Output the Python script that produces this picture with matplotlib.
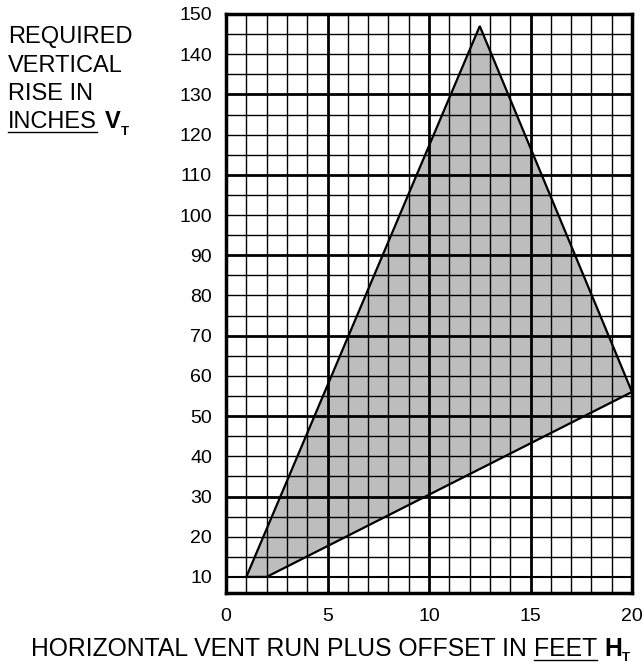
import numpy as np
import matplotlib
matplotlib.use("Agg")
import matplotlib.pyplot as plt
from matplotlib.lines import Line2D

plt.rcParams['font.family'] = ['Liberation Sans', 'DejaVu Sans']

# vent region polygon (feet, inches)
region_x = [1, 2, 20, 12.5]
region_y = [10, 10, 56, 147]

x_ticks = [0, 5, 10, 15, 20]
y_ticks = [10, 20, 30, 40, 50, 60, 70, 80, 90, 100, 110, 120, 130, 140, 150]

W, H = 644, 663
fig = plt.figure(figsize=(W / 100, H / 100), dpi=100)
ax = fig.add_axes([226 / W, 1 - 593 / H, (632 - 226) / W, (593 - 14) / H])
ax.set_xlim(0, 20)
ax.set_ylim(6, 150)

ax.fill(region_x, region_y, facecolor='#bdbdbd', edgecolor='none', zorder=1)

# grid
for gx in range(1, 20):
    lw = 2.0 if gx % 5 == 0 else 1.0
    ax.axvline(gx, color='black', lw=lw, zorder=2)
for gy in range(10, 150, 5):
    lw = 2.0 if gy % 20 == 10 and gy >= 30 else (1.5 if gy == 10 else 1.0)
    ax.axhline(gy, color='black', lw=lw, zorder=2)

ax.fill(region_x, region_y, facecolor='none', edgecolor='black', lw=1.6, zorder=3)

for s in ax.spines.values():
    s.set_linewidth(2.5)
    s.set_zorder(4)

ax.set_xticks(x_ticks)
ax.set_yticks(y_ticks)
ax.tick_params(length=0, labelsize=14, pad=10)
ax.tick_params(axis='x', pad=11)


def px(x, y):
    return x / W, 1 - y / H


fig.canvas.draw()
r = fig.canvas.get_renderer()


def put(x, y, s, size, bold=False, underline=False):
    t = fig.text(*px(x, y), s, fontsize=size, fontweight='bold' if bold else 'normal',
                 va='baseline', ha='left')
    bb = t.get_window_extent(renderer=r)
    if underline:
        yy = H - (y + 3.5)
        fig.add_artist(Line2D([bb.x0 / W, bb.x1 / W], [yy / H, yy / H], color='black',
                              lw=1.0, transform=fig.transFigure))
    return bb.x1


# y axis title
for i, line in enumerate(['REQUIRED', 'VERTICAL', 'RISE IN']):
    put(8, 43 + i * 28.5, line, 17)
xe = put(8, 128, 'INCHES', 17, underline=True)
xe = put(xe + 8, 128, 'V', 17, bold=True)
put(xe + 0.5, 135, 'T', 9.5, bold=True)

# x axis title
xe = put(31, 656, 'HORIZONTAL VENT RUN PLUS OFFSET IN ', 17.8)
xe = put(xe, 656, 'FEET', 17.8, underline=True)
xe = put(xe + 7, 656, 'H', 17.8, bold=True)
put(xe + 0.5, 661, 'T', 9.5, bold=True)

fig.savefig('out.png', dpi=100)
